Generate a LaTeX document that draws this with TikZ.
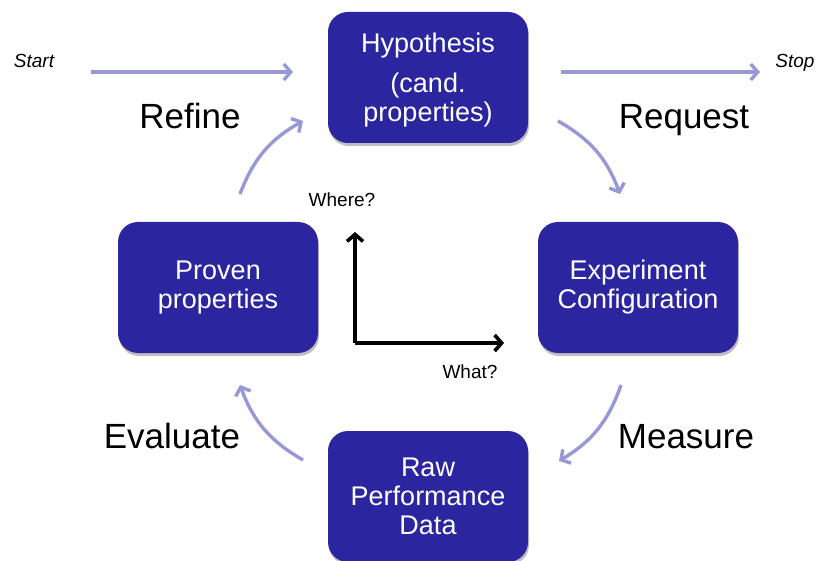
\documentclass[tikz,border=0pt]{standalone}
\usepackage{fontspec}
\setmainfont{Liberation Sans}
\usetikzlibrary{arrows.meta,shadows}
\definecolor{boxblue}{RGB}{43,38,160}
\definecolor{arrowlilac}{RGB}{152,152,212}
\begin{document}
\begin{tikzpicture}[x=1pt,y=-1pt,
  stagebox/.style={draw=none,fill=boxblue,text=white,rounded corners=20pt,
    minimum width=200pt,minimum height=131pt,align=center,
    font=\fontsize{27}{29}\selectfont,
    drop shadow={shadow xshift=1pt,shadow yshift=-3pt,opacity=0.25,fill=black}},
  cyclearrow/.style={draw=arrowlilac,line width=3.4pt,
    -{Straight Barb[length=7pt,width=16pt]}},
  axisarrow/.style={draw=black,line width=3.6pt,
    -{Straight Barb[length=7pt,width=16pt]}},
  steplabel/.style={font=\fontsize{35}{38}\selectfont,text=black},
  smalllabel/.style={font=\fontsize{19}{22}\selectfont,text=black},
  ]
\useasboundingbox (0,0) rectangle (818,561);
% boxes
\node[stagebox] (hyp) at (428,77.5) {};
\node[align=center,text=white,font=\fontsize{27}{29}\selectfont] (hyptext) at (428,80) {Hypothesis\\[11pt](cand.\\properties)};
\node[stagebox] (exp) at (638,287.5) {Experiment\\Configuration};
\node[stagebox] (prov) at (218,287.5) {Proven\\properties};
\node[stagebox] (raw) at (428,496.5) {Raw\\Performance\\Data};
% labels
\node[steplabel] (refine) at (190,116) {Refine};
\node[steplabel] (request) at (684,120) {Request};
\node[steplabel] (evaluate) at (172,436) {Evaluate};
\node[steplabel] (measure) at (686,437) {Measure};
\node[smalllabel,font=\fontsize{19}{22}\selectfont\itshape] (start) at (34,61) {Start};
\node[smalllabel,font=\fontsize{19}{22}\selectfont\itshape] (stop) at (795,63) {Stop};
\node[smalllabel] (where) at (342,200) {Where?};
\node[smalllabel] (what) at (470,372) {What?};
% straight arrows
\coordinate (startA) at (91,72);
\coordinate (startB) at (293,72);
\coordinate (stopA) at (561,72);
\coordinate (stopB) at (760,72);
\draw[cyclearrow] (startA) -- (startB);
\draw[cyclearrow] (stopA) -- (stopB);
% curved cycle arrows
\coordinate (reqA) at (558,121);
\coordinate (reqB) at (620,194);
\coordinate (meaA) at (621,385);
\coordinate (meaB) at (559,461);
\coordinate (evaA) at (303,460);
\coordinate (evaB) at (240,385);
\coordinate (refA) at (240,194);
\coordinate (refB) at (303,121);
\draw[cyclearrow] (reqA) to[bend left=20] (reqB);
\draw[cyclearrow] (meaA) to[bend left=20] (meaB);
\draw[cyclearrow] (evaA) to[bend left=20] (evaB);
\draw[cyclearrow] (refA) to[bend left=20] (refB);
% axes
\coordinate (origin) at (355,343);
\coordinate (yend) at (355,232);
\coordinate (xend) at (504,343);
\draw[axisarrow] (origin) -- (yend);
\draw[axisarrow] (origin) -- (xend);
\end{tikzpicture}
\end{document}
